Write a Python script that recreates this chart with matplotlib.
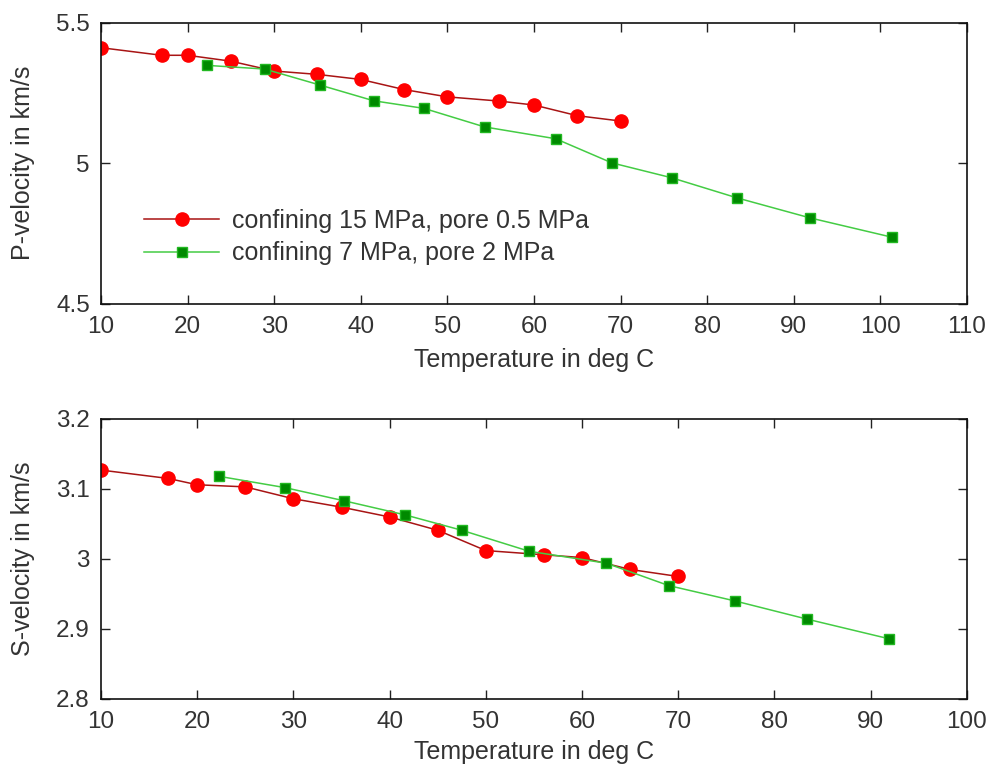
import matplotlib
matplotlib.use("Agg")
import matplotlib.pyplot as plt
from matplotlib.ticker import FuncFormatter

# ---- data ----
temp_red = [10, 17, 20, 25, 30, 35, 40, 45, 50, 56, 60, 65, 70]
vp_red = [5.411, 5.384, 5.384, 5.363, 5.328, 5.316, 5.298, 5.262, 5.236, 5.221, 5.207, 5.169, 5.150]
vs_red = [3.127, 3.115, 3.106, 3.103, 3.086, 3.074, 3.060, 3.041, 3.012, 3.006, 3.002, 2.985, 2.975]

temp_green_p = [22.3, 28.9, 35.3, 41.5, 47.3, 54.3, 62.5, 69.0, 75.9, 83.5, 91.9, 101.4]
vp_green = [5.348, 5.335, 5.278, 5.222, 5.195, 5.129, 5.087, 5.001, 4.948, 4.876, 4.805, 4.736]

temp_green_s = [22.3, 29.1, 35.3, 41.6, 47.5, 54.5, 62.5, 69.0, 75.9, 83.4, 91.9]
vs_green = [3.118, 3.102, 3.083, 3.063, 3.041, 3.011, 2.994, 2.962, 2.940, 2.914, 2.886]

label_red = "confining 15 MPa, pore 0.5 MPa"
label_green = "confining 7 MPa, pore 2 MPa"
xlabel = "Temperature in deg C"
ylabel_p = "P-velocity in km/s"
ylabel_s = "S-velocity in km/s"

xticks_p = list(range(10, 111, 10))
xticks_s = list(range(10, 101, 10))
yticks_p = [4.5, 5.0, 5.5]
yticks_s = [2.8, 2.9, 3.0, 3.1, 3.2]

# ---- style ----
plt.rcParams['font.family'] = ['Liberation Sans', 'DejaVu Sans']
FS = 18
TFS = 17.5
red_line = '#a81414'
red_marker = '#ff0000'
green_line = '#44cc44'
green_marker = '#008a00'
txt = '#333333'

fig = plt.figure(figsize=(9.9, 7.72), dpi=100)
ax1 = fig.add_axes([0.102, 0.6067, 0.8747, 0.3639])
ax2 = fig.add_axes([0.102, 0.0946, 0.8747, 0.3627])

def style(ax):
    ax.tick_params(direction='in', length=6.5, width=1.0, top=True, right=True,
                   labelsize=TFS, colors='#222222', labelcolor=txt)
    ax.tick_params(axis='x', pad=9)
    ax.tick_params(axis='y', pad=8)
    for s in ax.spines.values():
        s.set_linewidth(1.2)
        s.set_color('#111111')
    ax.yaxis.set_major_formatter(FuncFormatter(lambda v, p: f"{v:g}"))

ax1.plot(temp_red, vp_red, '-o', color=red_line, lw=1.1, ms=9.5,
         mfc=red_marker, mec=red_marker, label=label_red)
ax1.plot(temp_green_p, vp_green, '-s', color=green_line, lw=1.1, ms=7.5,
         mfc=green_marker, mec='#22b822', label=label_green)
ax1.set_xlim(10, 110)
ax1.set_ylim(4.5, 5.5)
ax1.set_xticks(xticks_p)
ax1.set_yticks(yticks_p)
ax1.set_xlabel(xlabel, fontsize=FS, color=txt, labelpad=7)
ax1.set_ylabel(ylabel_p, fontsize=FS, color=txt, labelpad=15)
style(ax1)
leg = ax1.legend(loc='center left', bbox_to_anchor=(0.05, 0.237), frameon=False,
                 fontsize=FS, handlelength=3.0, handletextpad=0.5,
                 labelspacing=0.35, borderpad=0, borderaxespad=0)
for t in leg.get_texts():
    t.set_color(txt)

ax2.plot(temp_red, vs_red, '-o', color=red_line, lw=1.1, ms=9.5,
         mfc=red_marker, mec=red_marker)
ax2.plot(temp_green_s, vs_green, '-s', color=green_line, lw=1.1, ms=7.5,
         mfc=green_marker, mec='#22b822')
ax2.set_xlim(10, 100)
ax2.set_ylim(2.8, 3.2)
ax2.set_xticks(xticks_s)
ax2.set_yticks(yticks_s)
ax2.set_xlabel(xlabel, fontsize=FS, color=txt, labelpad=5)
ax2.set_ylabel(ylabel_s, fontsize=FS, color=txt, labelpad=15)
style(ax2)

fig.savefig('out.png', dpi=100)
